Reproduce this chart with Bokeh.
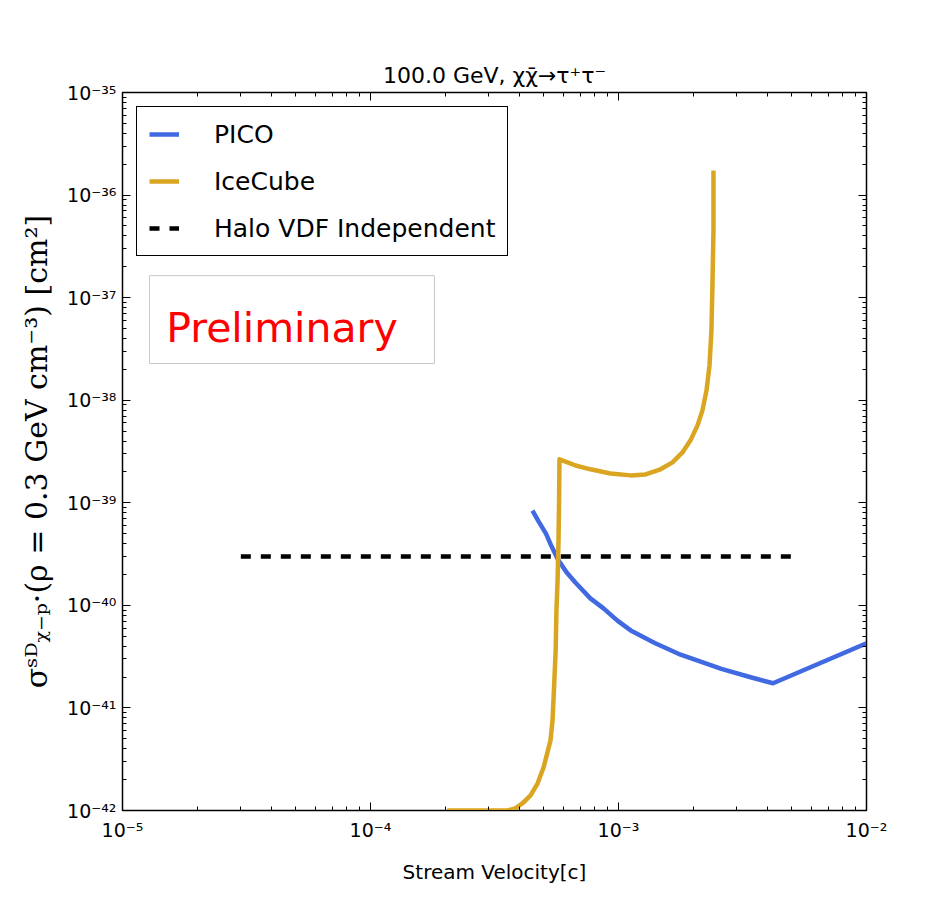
from bokeh.plotting import figure
from bokeh.models import (LogAxis, FixedTicker, CustomJSTickFormatter, BoxAnnotation,
                          Label, Legend, LegendItem, Range1d)
from bokeh.embed import file_html
from bokeh.resources import INLINE

# ---------------- data ----------------
title_text = "100.0 GeV, χχ̄→τ⁺τ⁻"
x_label = "Stream Velocity[c]"
y_label = "σˢᴰᵪ₋ₚ·(ρ = 0.3 GeV cm⁻³) [cm²]"
legend_labels = ["PICO", "IceCube", "Halo VDF Independent"]
watermark = "Preliminary"

x_decades = [-5, -4, -3, -2]
y_decades = [-42, -41, -40, -39, -38, -37, -36, -35]

pico_v = [4.5e-4, 4.76e-4, 5.1e-4, 5.37e-4, 5.7e-4, 6.17e-4, 6.7e-4, 7.7e-4, 8.7e-4,
          9.9e-4, 1.12e-3, 1.4e-3, 1.78e-3, 2.6e-3, 3.41e-3, 4.2e-3, 1.0e-2]
pico_sigma = [8.4e-40, 6.59e-40, 5.0e-40, 3.76e-40, 2.8e-40, 2.1e-40, 1.67e-40, 1.17e-40, 9.35e-41,
              7.1e-41, 5.7e-41, 4.3e-41, 3.3e-41, 2.4e-41, 1.99e-41, 1.74e-41, 4.27e-41]

ice_v = [2.04e-4, 3.56e-4, 3.84e-4, 4.10e-4, 4.42e-4, 4.72e-4, 4.99e-4, 5.17e-4, 5.32e-4,
         5.42e-4, 5.49e-4, 5.58e-4, 5.62e-4, 5.68e-4, 5.73e-4, 5.76e-4, 5.78e-4, 6.23e-4,
         6.71e-4, 7.71e-4, 9.28e-4, 1.12e-3, 1.285e-3, 1.477e-3, 1.651e-3, 1.811e-3,
         1.951e-3, 2.083e-3, 2.18e-3, 2.264e-3, 2.328e-3, 2.37e-3, 2.39e-3, 2.415e-3, 2.415e-3]
ice_sigma = [1.0e-42, 1.0e-42, 1.05e-42, 1.176e-42, 1.406e-42, 1.84e-42, 2.64e-42, 3.69e-42, 4.83e-42,
             7.57e-42, 1.48e-41, 3.64e-41, 8.94e-41, 1.75e-40, 4.3e-40, 1.055e-39, 2.65e-39, 2.48e-39,
             2.31e-39, 2.12e-39, 1.93e-39, 1.85e-39, 1.89e-39, 2.12e-39, 2.48e-39, 3.10e-39,
             4.06e-39, 5.68e-39, 7.96e-39, 1.246e-38, 2.18e-38, 4.79e-38, 1.175e-37, 4.52e-37, 1.74e-36]

halo_v = [3.0e-5, 5.0e-3]
halo_sigma = [3.0e-40, 3.0e-40]

# ---------------- figure ----------------
p = figure(width=951, height=900, x_axis_type="log", y_axis_type="log",
           x_range=Range1d(10.0 ** x_decades[0], 10.0 ** x_decades[-1]),
           y_range=Range1d(10.0 ** y_decades[0], 10.0 ** y_decades[-1]),
           output_backend="svg", toolbar_location=None, title=title_text,
           min_border_left=122, min_border_right=85, min_border_top=92, min_border_bottom=90)

p.background_fill_color = "white"
p.border_fill_color = "white"
p.outline_line_color = "black"
p.outline_line_width = 1.5
p.outline_line_alpha = 1.0
p.xgrid.visible = False
p.ygrid.visible = False

p.title.text_font = "DejaVu Sans"
p.title.text_font_size = "22px"
p.title.text_font_style = "normal"
p.title.align = "center"
p.title.text_color = "black"

x_major = [10.0 ** e for e in x_decades]
x_minor = [k * 10.0 ** e for e in x_decades[:-1] for k in range(2, 10)]
y_major = [10.0 ** e for e in y_decades]
y_minor = [k * 10.0 ** e for e in y_decades[:-1] for k in range(2, 10)]

fmt_code = """
const m = {"-":"\\u207B","0":"\\u2070","1":"\\u00B9","2":"\\u00B2","3":"\\u00B3",
           "4":"\\u2074","5":"\\u2075","6":"\\u2076","7":"\\u2077","8":"\\u2078","9":"\\u2079"};
const e = Math.round(Math.log10(tick));
return "10" + String(e).split("").map(c => m[c]).join("");
"""


def style_axis(ax, show_labels=True):
    ax.major_tick_in = 8
    ax.major_tick_out = 0
    ax.minor_tick_in = 4
    ax.minor_tick_out = 0
    ax.axis_line_color = "black"
    ax.major_tick_line_color = "black"
    ax.minor_tick_line_color = "black"
    ax.major_label_text_font = "DejaVu Sans"
    ax.major_label_text_color = "black"
    ax.axis_label_text_color = "black"
    if show_labels:
        ax.major_label_text_font_size = "19px"
        ax.major_label_standoff = 8
    else:
        ax.major_label_text_font_size = "1px"
        ax.major_label_text_alpha = 0.0
        ax.major_label_standoff = 0


xt = FixedTicker(ticks=x_major, minor_ticks=x_minor)
yt = FixedTicker(ticks=y_major, minor_ticks=y_minor)

xa = p.xaxis[0]
xa.ticker = xt
xa.formatter = CustomJSTickFormatter(code=fmt_code)
style_axis(xa)
xa.axis_label = x_label
xa.axis_label_text_font = "DejaVu Sans"
xa.axis_label_text_font_size = "20px"
xa.axis_label_text_font_style = "normal"
xa.axis_label_standoff = 16

ya = p.yaxis[0]
ya.ticker = yt
ya.formatter = CustomJSTickFormatter(code=fmt_code)
style_axis(ya)
ya.major_label_standoff = 6
ya.axis_label = y_label
ya.axis_label_text_font = "DejaVu Serif"
ya.axis_label_text_font_size = "30px"
ya.axis_label_text_font_style = "normal"
ya.axis_label_standoff = 10

top = LogAxis(ticker=FixedTicker(ticks=x_major, minor_ticks=x_minor))
style_axis(top, show_labels=False)
p.add_layout(top, "above")
right = LogAxis(ticker=FixedTicker(ticks=y_major, minor_ticks=y_minor))
style_axis(right, show_labels=False)
p.add_layout(right, "right")

# ---------------- curves ----------------
r1 = p.line(pico_v, pico_sigma, line_color="#4169E1", line_width=4.5, line_join="round")
r2 = p.line(ice_v, ice_sigma, line_color="#DAA520", line_width=4.5, line_join="round")
r3 = p.line(halo_v, halo_sigma, line_color="black", line_width=4.5, line_dash="10 10")

legend = Legend(items=[LegendItem(label=legend_labels[0], renderers=[r1]),
                       LegendItem(label=legend_labels[1], renderers=[r2]),
                       LegendItem(label=legend_labels[2], renderers=[r3])],
                location="top_left")
legend.margin = 14
legend.padding = 12
legend.spacing = 17
legend.glyph_width = 30
legend.glyph_height = 30
legend.label_height = 30
legend.label_standoff = 35
legend.label_text_font = "DejaVu Sans"
legend.label_text_font_size = "25px"
legend.label_text_color = "black"
legend.border_line_color = "black"
legend.border_line_alpha = 1.0
legend.border_line_width = 1.5
legend.background_fill_color = "white"
legend.background_fill_alpha = 1.0
p.add_layout(legend)

# ---------------- watermark ----------------
box = BoxAnnotation(left=1.285e-5, right=1.81e-4, top=1.64e-37, bottom=2.28e-38,
                    fill_color="white", fill_alpha=1.0,
                    line_color="#c8c8c8", line_width=1, line_alpha=1.0)
p.add_layout(box)
lab = Label(x=1.5e-5, y=5.1e-38, text=watermark, text_color="red",
            text_font="DejaVu Sans", text_font_size="41px", text_baseline="alphabetic")
p.add_layout(lab)

open("out.html", "w").write(file_html(p, INLINE))
